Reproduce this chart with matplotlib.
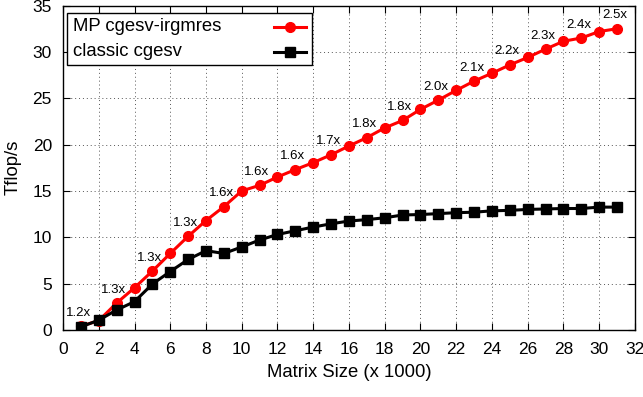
import matplotlib
matplotlib.use('Agg')
import matplotlib.pyplot as plt
from matplotlib.lines import Line2D
from matplotlib.patches import Rectangle
import numpy as np

plt.rcParams['font.family'] = ['Liberation Sans', 'DejaVu Sans']

# matrix size in thousands
sizes = list(range(1, 32))

# Tflop/s for the mixed-precision solver
mp_irgmres = [0.4, 1.0, 2.9, 4.55, 6.35, 8.25, 10.1, 11.8, 13.3, 15.0,
              15.6, 16.5, 17.3, 18.05, 18.9, 19.85, 20.75, 21.8, 22.6, 23.8,
              24.8, 25.85, 26.85, 27.7, 28.6, 29.4, 30.3, 31.15, 31.5, 32.2,
              32.5]

# Tflop/s for the classic solver
classic = [0.33, 1.05, 2.15, 3.05, 4.95, 6.3, 7.6, 8.55, 8.25, 8.95,
           9.7, 10.3, 10.7, 11.1, 11.45, 11.75, 11.9, 12.1, 12.4, 12.45,
           12.55, 12.65, 12.7, 12.85, 12.9, 13.0, 13.05, 13.1, 13.1, 13.25,
           13.25]

# speedup annotations, one every other size
speedup_sizes = list(range(1, 32, 2))
speedup_text = ['1.2x', '1.3x', '1.3x', '1.3x', '1.6x', '1.6x', '1.6x', '1.7x',
                '1.8x', '1.8x', '2.0x', '2.1x', '2.2x', '2.3x', '2.4x', '2.5x']

series_names = ['MP cgesv-irgmres', 'classic cgesv']

fig = plt.figure(figsize=(6.43, 3.97), dpi=100)
ax = fig.add_axes([0.098, 0.169, 0.8895, 0.817])

red_style = dict(color='#ff0000', lw=2.2, marker='o', ms=7)
black_style = dict(color='black', lw=2.2, marker='s', ms=7.5)

ax.plot(sizes, mp_irgmres, zorder=3, **red_style)
ax.plot(sizes, classic, zorder=4, **black_style)

for xs, txt in zip(speedup_sizes, speedup_text):
    ax.text(xs - 0.15, mp_irgmres[xs - 1] + 1.45, txt, fontsize=9.5,
            ha='center', va='center', zorder=5)

ax.set_xlim(0, 32)
ax.set_ylim(0, 35)
ax.set_xticks(np.arange(0, 33, 2))
ax.set_yticks(np.arange(0, 36, 5))
ax.tick_params(direction='in', length=5, width=0.8, top=True, right=True,
               labelsize=12.5)
ax.tick_params(axis='x', pad=9)
ax.tick_params(axis='y', pad=8)
ax.grid(True, linestyle=(0, (1, 3)), color='#555555', lw=0.7)
for s in ax.spines.values():
    s.set_linewidth(1.0)

ax.set_xlabel('Matrix Size (x 1000)', fontsize=13.3, labelpad=5)
ax.set_ylabel('Tflop/s', fontsize=13.3, labelpad=8)

# gnuplot-like key: text on the left, sample line on the right
ax.add_patch(Rectangle((0.0075, 0.8175), 0.427, 0.16, transform=ax.transAxes,
                       facecolor='white', edgecolor='black', lw=1.0, zorder=6))
rows = [0.935, 0.857]
for yy, name, style in zip(rows, series_names, [red_style, black_style]):
    ax.text(0.017, yy, name, transform=ax.transAxes, fontsize=13.3,
            ha='left', va='center', zorder=7)
    ax.add_line(Line2D([0.369, 0.424], [yy, yy], transform=ax.transAxes,
                       color=style['color'], lw=style['lw'], zorder=7))
    ax.add_line(Line2D([0.3965], [yy], transform=ax.transAxes, zorder=8,
                       color=style['color'], marker=style['marker'],
                       ms=style['ms'], lw=0))

fig.savefig('out.png', dpi=100)
